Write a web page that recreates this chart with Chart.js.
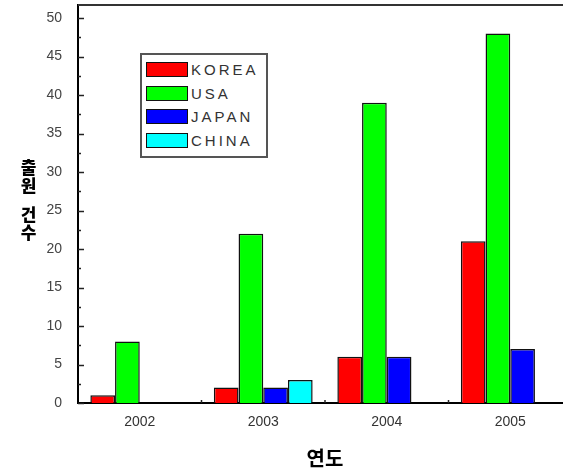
<!DOCTYPE html>
<html>
<head>
<meta charset="utf-8">
<script src="https://cdn.jsdelivr.net/npm/chart.js@4.4.1/dist/chart.umd.min.js"></script>
<style>
    body { margin: 0; overflow: hidden; background: #fff; }
    .wrap { position: relative; width: 563px; height: 474px; overflow: hidden; }
    #chart { position: absolute; left: 0; top: 0; }
    .ytitle {
        position: absolute; left: 16px; top: 159px;
        writing-mode: vertical-rl; text-orientation: upright;
        font: 900 17px "Noto Sans CJK KR", sans-serif; letter-spacing: 1px; word-spacing: -7px; color: #000;
    }
    .legend {
        position: absolute; left: 140px; top: 53px; width: 124px; height: 98px;
        border: 2px solid #555; background: #fff; padding-top: 3px; box-sizing: content-box;
    }
    .legend .item { display: flex; align-items: center; height: 23.5px; }
    .legend .sw { width: 40px; height: 13px; border: 1.5px solid #111; margin-left: 4px; margin-right: 3px; }
    .legend .lbl { font: 15px "Liberation Sans", Arial, sans-serif; letter-spacing: 3px; color: #333; }
</style>
</head>
<body>
<div class="wrap">
    <canvas id="chart" width="572" height="474"></canvas>
    <div class="ytitle">출원 건수</div>
    <div class="legend" id="legend"></div>
</div>
<script>
document.addEventListener('DOMContentLoaded', () => {
    // data
    const years = ['2002', '2003', '2004', '2005'];
    const seriesNames = ['KOREA', 'USA', 'JAPAN', 'CHINA'];
    const korea = [1, 2, 6, 21];
    const usa = [8, 22, 39, 48];
    const japan = [0, 2, 6, 7];
    const china = [0, 3, 0, 0];
    const yTicks = [0, 5, 10, 15, 20, 25, 30, 35, 40, 45, 50];
    const minorStep = 2.5;

    const colors = ['#ff0000', '#00ff00', '#0000ff', '#00ffff'];
    const seriesValues = [korea, usa, japan, china];

    // build html legend
    const legendEl = document.getElementById('legend');
    seriesNames.forEach((name, i) => {
        const item = document.createElement('div');
        item.className = 'item';
        item.innerHTML = '<span class="sw" style="background:' + colors[i] + '"></span><span class="lbl">' + name + '</span>';
        legendEl.appendChild(item);
    });

    // top frame line + inward tick marks like the original plot
    const frameTicks = {
        id: 'frameTicks',
        afterDraw(chart) {
            const ctx = chart.ctx;
            const area = chart.chartArea;
            const y = chart.scales.y;
            const x = chart.scales.x;
            ctx.save();
            ctx.strokeStyle = '#333';
            ctx.lineWidth = 2;
            ctx.beginPath();
            ctx.moveTo(area.left, area.top);
            ctx.lineTo(area.right, area.top);
            ctx.stroke();

            ctx.strokeStyle = '#222';
            ctx.lineWidth = 1.5;
            for (let v = 0; v <= yTicks[yTicks.length - 1]; v += minorStep) {
                const py = Math.round(y.getPixelForValue(v)) + 0.5;
                const len = v % 5 === 0 ? 6 : 3;
                ctx.beginPath();
                ctx.moveTo(area.left, py);
                ctx.lineTo(area.left + len, py);
                ctx.stroke();
            }
            for (let i = 0; i < years.length - 1; i++) {
                const px = (x.getPixelForValue(i) + x.getPixelForValue(i + 1)) / 2;
                ctx.beginPath();
                ctx.moveTo(px, area.bottom);
                ctx.lineTo(px, area.bottom - 3);
                ctx.stroke();
            }
            ctx.restore();
        }
    };

    const ctx = document.getElementById('chart').getContext('2d');
    new Chart(ctx, {
        type: 'bar',
        data: {
            labels: years,
            datasets: seriesNames.map((name, i) => ({
                label: name,
                data: seriesValues[i],
                backgroundColor: colors[i],
                borderColor: '#111',
                borderWidth: 1.5,
                borderSkipped: 'bottom'
            }))
        },
        options: {
            responsive: false,
            animation: false,
            layout: { padding: { top: 5, left: 0, right: 0, bottom: 0 } },
            datasets: {
                bar: { categoryPercentage: 0.8, barPercentage: 1.0 }
            },
            plugins: {
                legend: { display: false },
                tooltip: { enabled: false }
            },
            scales: {
                x: {
                    grid: { display: false },
                    border: { display: true, color: '#000', width: 2 },
                    ticks: {
                        color: '#333',
                        padding: 3,
                        font: { family: '"Liberation Sans", Arial, sans-serif', size: 14 }
                    },
                    title: {
                        display: true,
                        text: '연도',
                        color: '#000',
                        font: { family: '"Noto Sans CJK KR", sans-serif', size: 20, weight: 'bold' },
                        padding: { top: 0, bottom: 4 }
                    },
                    afterFit(scale) {
                        scale.height = 71;
                        scale.paddingLeft = 0;
                        scale.paddingRight = 0;
                    }
                },
                y: {
                    min: 0,
                    max: 51.7,
                    grid: { display: false },
                    border: { display: true, color: '#000', width: 2 },
                    afterBuildTicks(scale) {
                        scale.ticks = yTicks.map(v => ({ value: v }));
                    },
                    ticks: {
                        color: '#444',
                        padding: 8,
                        font: { family: '"Liberation Sans", Arial, sans-serif', size: 14 }
                    },
                    afterFit(scale) {
                        scale.width = 78;
                        scale.paddingTop = 0;
                        scale.paddingBottom = 0;
                    }
                }
            }
        },
        plugins: [frameTicks]
    });
});
</script>
</body>
</html>
